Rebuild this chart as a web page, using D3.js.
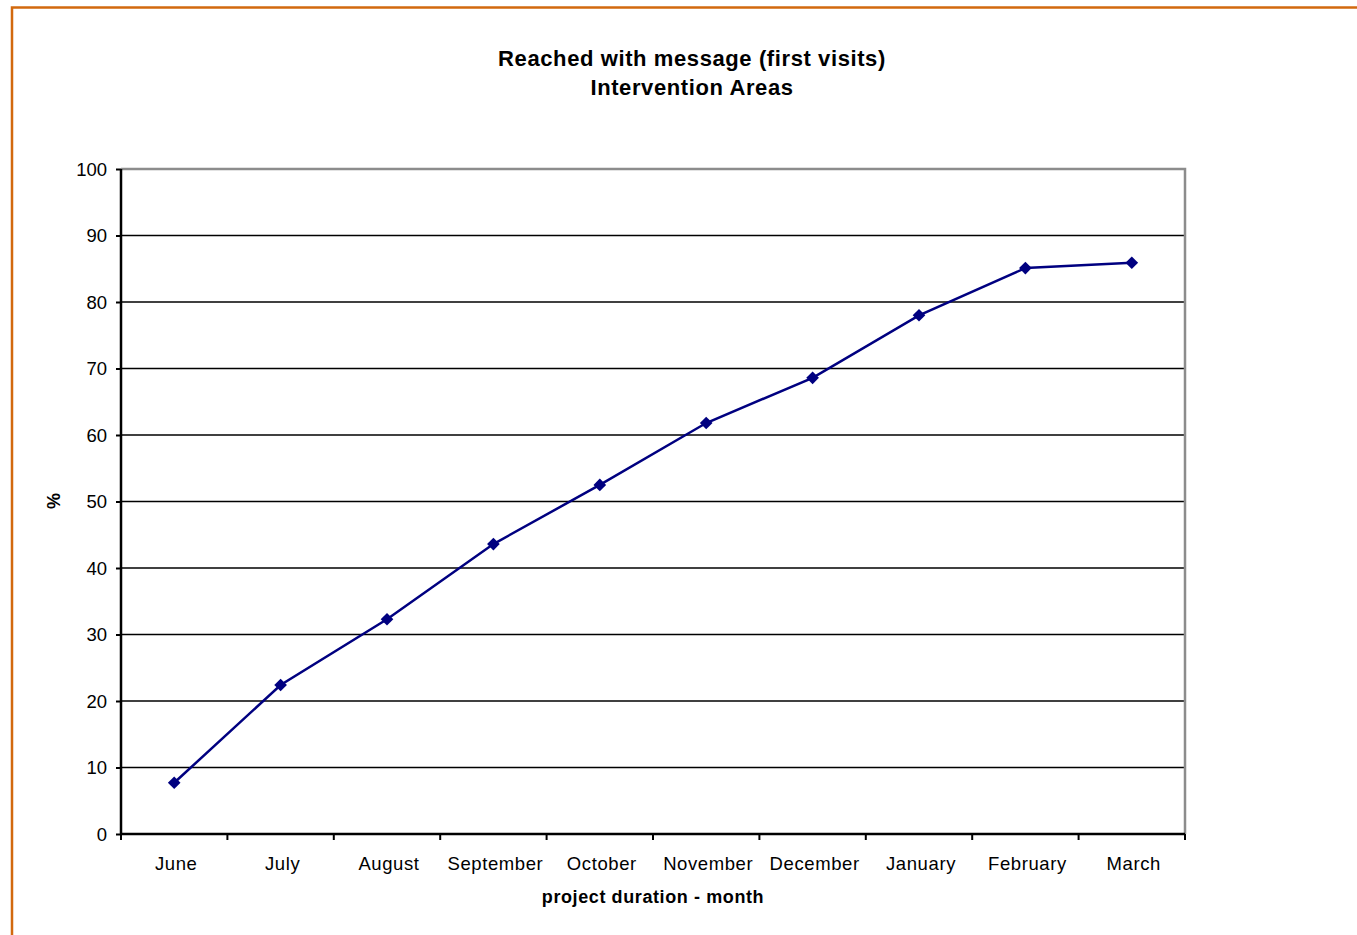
<!DOCTYPE html>
<html><head><meta charset="utf-8">
<script src="https://cdn.jsdelivr.net/npm/d3@7"></script>
<style>body{margin:0;background:#fff}svg{display:block}text{font-family:"Liberation Sans",Arial,sans-serif}</style>
</head><body>
<svg id="c" width="1357" height="935"></svg>
<script>
const months = ["June","July","August","September","October","November","December","January","February","March"];
const values = [7.7, 22.4, 32.3, 43.6, 52.5, 61.8, 68.6, 78.0, 85.1, 85.9];
const yTicks = [0,10,20,30,40,50,60,70,80,90,100];
const titleLines = ["Reached with message (first visits)","Intervention Areas"];

const svg = d3.select("#c");
// orange frame
svg.append("path").attr("d","M12,935 V7.5 H1357").attr("fill","none").attr("stroke","#d2690e").attr("stroke-width",2.5);

const L=121, R=1185, T=169, B=834;
const x = d3.scaleBand().domain(months).range([L,R]).paddingInner(0).paddingOuter(0);
const y = d3.scaleLinear().domain([0,100]).range([B,T]);

// gridlines
svg.append("g").selectAll("line").data(yTicks.filter(d=>d>0&&d<100)).join("line")
  .attr("x1",L).attr("x2",R).attr("y1",d=>y(d)).attr("y2",d=>y(d))
  .attr("stroke","#000").attr("stroke-width",1.6);
// plot border top/right gray
svg.append("path").attr("d",`M${L},${T} H${R} V${B}`).attr("fill","none").attr("stroke","#8c8c8c").attr("stroke-width",2.5);

// y axis
const ya = svg.append("g").attr("transform",`translate(${L},0)`)
  .call(d3.axisLeft(y).tickValues(yTicks).tickSize(5).tickPadding(9));
ya.select(".domain").attr("stroke","#000").attr("stroke-width",2.5).attr("d",`M0,${B+1}V${T}`);
ya.selectAll(".tick line").attr("stroke","#000").attr("stroke-width",2);
ya.selectAll("text").attr("font-size",18.5).attr("fill","#000").attr("dy","0.35em");

// x axis
const xa = svg.append("g").attr("transform",`translate(0,${B})`)
  .call(d3.axisBottom(x).tickSize(0).tickPadding(23));
xa.select(".domain").attr("stroke","#000").attr("stroke-width",2.5).attr("d",`M${L-1},0H${R}`);
xa.selectAll("text").attr("font-size",18.5).attr("fill","#000").attr("letter-spacing","0.6px").attr("dx","2");
// band boundary ticks
const bounds = months.map(m=>x(m)).concat([R]);
svg.append("g").selectAll("line").data(bounds).join("line")
  .attr("x1",d=>d).attr("x2",d=>d).attr("y1",B).attr("y2",B+6)
  .attr("stroke","#000").attr("stroke-width",2);

// line
const cx = d=>x(d)+x.bandwidth()/2;
const data = months.map((m,i)=>({m,v:values[i]}));
svg.append("path").datum(data)
  .attr("d",d3.line().x(d=>cx(d.m)).y(d=>y(d.v)))
  .attr("fill","none").attr("stroke","#000080").attr("stroke-width",2.5);
svg.append("g").selectAll("path").data(data).join("path")
  .attr("d",d3.symbol(d3.symbolSquare,80))
  .attr("transform",d=>`translate(${cx(d.m)},${y(d.v)}) rotate(45)`)
  .attr("fill","#000080");

// titles
svg.append("text").attr("x",692).attr("y",66).attr("text-anchor","middle")
  .attr("font-size",22).attr("font-weight","bold").attr("letter-spacing","0.6px").text(titleLines[0]);
svg.append("text").attr("x",692).attr("y",95).attr("text-anchor","middle")
  .attr("font-size",22).attr("font-weight","bold").attr("letter-spacing","0.6px").text(titleLines[1]);
svg.append("text").attr("x",653).attr("y",903).attr("text-anchor","middle")
  .attr("font-size",18).attr("font-weight","bold").attr("letter-spacing","0.6px").text("project duration - month");
svg.append("text").attr("transform","translate(60,501) rotate(-90)").attr("text-anchor","middle")
  .attr("font-size",18).attr("font-weight","bold").text("%");
</script>
</body></html>
